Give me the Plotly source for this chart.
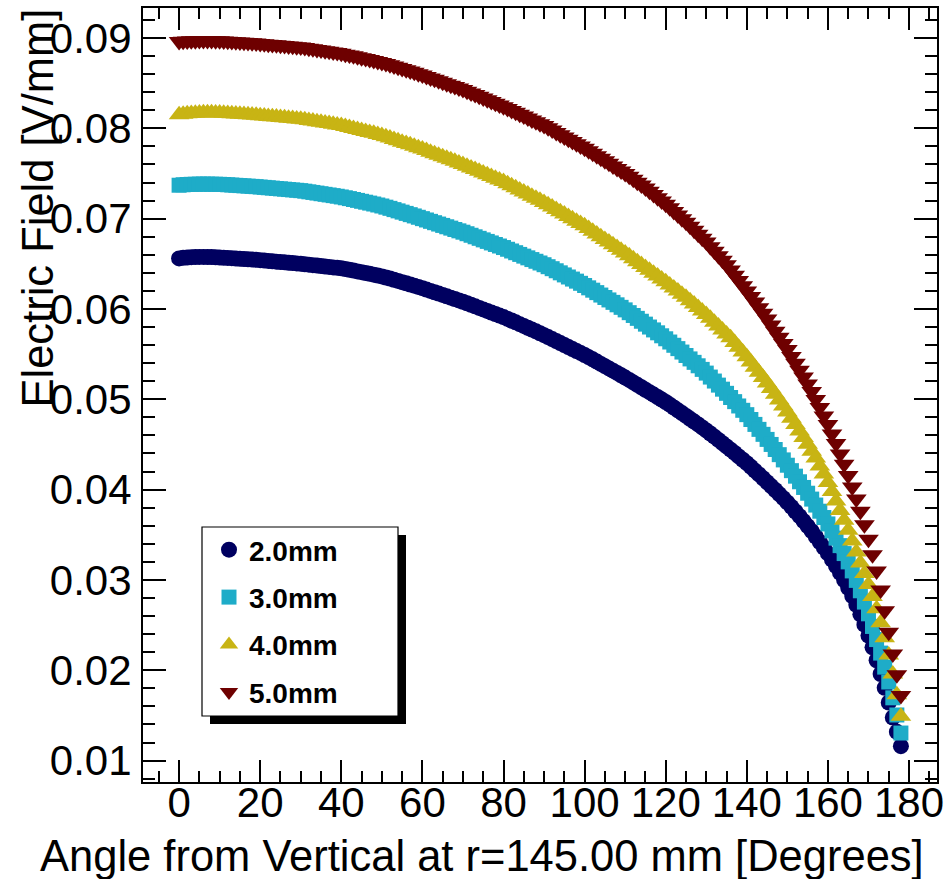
import plotly.graph_objects as go

# ---------------- data ----------------
angles = list(range(0, 179))  # degrees, 1-degree steps

field_2mm = [
    0.06560, 0.06566, 0.06570, 0.06573, 0.06575, 0.06576, 0.06576, 0.06575, 0.06574, 0.06572,
    0.06570, 0.06567, 0.06565, 0.06562, 0.06559, 0.06556, 0.06553, 0.06550, 0.06547, 0.06544,
    0.06540, 0.06536, 0.06532, 0.06528, 0.06524, 0.06520, 0.06516, 0.06512, 0.06508, 0.06504,
    0.06500, 0.06495, 0.06490, 0.06485, 0.06480, 0.06475, 0.06470, 0.06465, 0.06460, 0.06455,
    0.06450, 0.06442, 0.06434, 0.06425, 0.06416, 0.06407, 0.06398, 0.06389, 0.06380, 0.06370,
    0.06360, 0.06348, 0.06336, 0.06323, 0.06310, 0.06297, 0.06284, 0.06271, 0.06258, 0.06244,
    0.06230, 0.06215, 0.06200, 0.06185, 0.06170, 0.06155, 0.06140, 0.06125, 0.06110, 0.06095,
    0.06080, 0.06063, 0.06046, 0.06029, 0.06012, 0.05995, 0.05978, 0.05961, 0.05944, 0.05927,
    0.05910, 0.05891, 0.05872, 0.05852, 0.05832, 0.05812, 0.05792, 0.05772, 0.05752, 0.05731,
    0.05710, 0.05689, 0.05667, 0.05645, 0.05623, 0.05601, 0.05579, 0.05557, 0.05535, 0.05513,
    0.05490, 0.05466, 0.05442, 0.05417, 0.05392, 0.05367, 0.05342, 0.05317, 0.05292, 0.05266,
    0.05240, 0.05214, 0.05187, 0.05160, 0.05133, 0.05106, 0.05079, 0.05052, 0.05025, 0.04998,
    0.04970, 0.04940, 0.04909, 0.04878, 0.04847, 0.04816, 0.04784, 0.04753, 0.04722, 0.04689,
    0.04655, 0.04621, 0.04586, 0.04550, 0.04514, 0.04478, 0.04442, 0.04406, 0.04368, 0.04331,
    0.04293, 0.04252, 0.04210, 0.04168, 0.04126, 0.04082, 0.04039, 0.03996, 0.03951, 0.03905,
    0.03858, 0.03809, 0.03758, 0.03706, 0.03652, 0.03596, 0.03540, 0.03481, 0.03420, 0.03358,
    0.03294, 0.03225, 0.03154, 0.03078, 0.02998, 0.02913, 0.02822, 0.02724, 0.02619, 0.02505,
    0.02385, 0.02254, 0.02111, 0.01959, 0.01806, 0.01643, 0.01477, 0.01318, 0.01160,
]

field_3mm = [
    0.07370, 0.07375, 0.07378, 0.07380, 0.07381, 0.07382, 0.07382, 0.07382, 0.07381, 0.07381,
    0.07380, 0.07378, 0.07375, 0.07372, 0.07369, 0.07366, 0.07363, 0.07360, 0.07357, 0.07354,
    0.07350, 0.07346, 0.07342, 0.07338, 0.07334, 0.07330, 0.07326, 0.07322, 0.07318, 0.07314,
    0.07310, 0.07304, 0.07297, 0.07290, 0.07283, 0.07276, 0.07269, 0.07262, 0.07255, 0.07248,
    0.07240, 0.07231, 0.07222, 0.07212, 0.07202, 0.07192, 0.07182, 0.07172, 0.07162, 0.07151,
    0.07140, 0.07127, 0.07114, 0.07100, 0.07086, 0.07072, 0.07058, 0.07044, 0.07030, 0.07015,
    0.07000, 0.06985, 0.06970, 0.06955, 0.06940, 0.06925, 0.06910, 0.06895, 0.06880, 0.06865,
    0.06850, 0.06833, 0.06816, 0.06799, 0.06782, 0.06765, 0.06748, 0.06731, 0.06714, 0.06697,
    0.06680, 0.06661, 0.06642, 0.06623, 0.06604, 0.06585, 0.06566, 0.06547, 0.06528, 0.06509,
    0.06490, 0.06468, 0.06446, 0.06423, 0.06400, 0.06377, 0.06354, 0.06331, 0.06308, 0.06284,
    0.06260, 0.06234, 0.06208, 0.06181, 0.06154, 0.06127, 0.06100, 0.06073, 0.06046, 0.06018,
    0.05990, 0.05959, 0.05928, 0.05896, 0.05864, 0.05832, 0.05800, 0.05768, 0.05736, 0.05703,
    0.05670, 0.05634, 0.05598, 0.05561, 0.05523, 0.05485, 0.05447, 0.05409, 0.05371, 0.05331,
    0.05290, 0.05246, 0.05202, 0.05157, 0.05112, 0.05066, 0.05020, 0.04974, 0.04926, 0.04878,
    0.04830, 0.04776, 0.04722, 0.04667, 0.04612, 0.04556, 0.04500, 0.04444, 0.04387, 0.04329,
    0.04270, 0.04210, 0.04149, 0.04087, 0.04024, 0.03960, 0.03895, 0.03829, 0.03761, 0.03691,
    0.03620, 0.03543, 0.03463, 0.03380, 0.03292, 0.03200, 0.03100, 0.02995, 0.02880, 0.02755,
    0.02625, 0.02485, 0.02340, 0.02190, 0.02035, 0.01870, 0.01695, 0.01505, 0.01305,
]

field_4mm = [
    0.08150, 0.08156, 0.08161, 0.08165, 0.08168, 0.08170, 0.08171, 0.08171, 0.08171, 0.08170,
    0.08170, 0.08168, 0.08165, 0.08162, 0.08159, 0.08156, 0.08153, 0.08150, 0.08147, 0.08144,
    0.08140, 0.08136, 0.08132, 0.08128, 0.08124, 0.08120, 0.08116, 0.08112, 0.08108, 0.08104,
    0.08100, 0.08094, 0.08087, 0.08080, 0.08073, 0.08066, 0.08059, 0.08052, 0.08045, 0.08038,
    0.08030, 0.08020, 0.08010, 0.07999, 0.07988, 0.07977, 0.07966, 0.07955, 0.07944, 0.07932,
    0.07920, 0.07906, 0.07892, 0.07877, 0.07862, 0.07847, 0.07832, 0.07817, 0.07802, 0.07786,
    0.07770, 0.07753, 0.07736, 0.07719, 0.07702, 0.07685, 0.07668, 0.07651, 0.07634, 0.07617,
    0.07600, 0.07581, 0.07562, 0.07543, 0.07524, 0.07505, 0.07486, 0.07467, 0.07448, 0.07429,
    0.07410, 0.07387, 0.07364, 0.07341, 0.07318, 0.07295, 0.07272, 0.07249, 0.07226, 0.07203,
    0.07180, 0.07154, 0.07128, 0.07102, 0.07076, 0.07050, 0.07024, 0.06998, 0.06972, 0.06946,
    0.06920, 0.06890, 0.06860, 0.06830, 0.06800, 0.06770, 0.06740, 0.06710, 0.06680, 0.06650,
    0.06620, 0.06588, 0.06556, 0.06524, 0.06492, 0.06460, 0.06428, 0.06396, 0.06364, 0.06332,
    0.06300, 0.06266, 0.06232, 0.06198, 0.06164, 0.06130, 0.06092, 0.06054, 0.06016, 0.05978,
    0.05940, 0.05897, 0.05854, 0.05811, 0.05768, 0.05724, 0.05680, 0.05628, 0.05576, 0.05523,
    0.05470, 0.05413, 0.05356, 0.05298, 0.05240, 0.05180, 0.05120, 0.05056, 0.04991, 0.04926,
    0.04860, 0.04790, 0.04720, 0.04650, 0.04576, 0.04501, 0.04426, 0.04350, 0.04262, 0.04172,
    0.04080, 0.03978, 0.03875, 0.03770, 0.03662, 0.03550, 0.03432, 0.03310, 0.03188, 0.03070,
    0.02950, 0.02818, 0.02680, 0.02525, 0.02360, 0.02170, 0.01960, 0.01730, 0.01490,
]

field_5mm = [
    0.08960, 0.08964, 0.08967, 0.08969, 0.08970, 0.08971, 0.08971, 0.08971, 0.08971, 0.08970,
    0.08970, 0.08968, 0.08965, 0.08962, 0.08959, 0.08956, 0.08953, 0.08950, 0.08947, 0.08944,
    0.08940, 0.08936, 0.08932, 0.08928, 0.08924, 0.08920, 0.08916, 0.08912, 0.08908, 0.08904,
    0.08900, 0.08894, 0.08887, 0.08880, 0.08873, 0.08866, 0.08859, 0.08852, 0.08845, 0.08838,
    0.08830, 0.08821, 0.08812, 0.08802, 0.08792, 0.08782, 0.08772, 0.08762, 0.08752, 0.08741,
    0.08730, 0.08717, 0.08704, 0.08690, 0.08676, 0.08662, 0.08648, 0.08634, 0.08620, 0.08605,
    0.08590, 0.08574, 0.08558, 0.08542, 0.08526, 0.08510, 0.08494, 0.08478, 0.08462, 0.08446,
    0.08430, 0.08411, 0.08392, 0.08373, 0.08354, 0.08335, 0.08316, 0.08297, 0.08278, 0.08259,
    0.08240, 0.08219, 0.08198, 0.08177, 0.08156, 0.08135, 0.08114, 0.08093, 0.08072, 0.08051,
    0.08030, 0.08005, 0.07980, 0.07955, 0.07930, 0.07905, 0.07880, 0.07855, 0.07830, 0.07805,
    0.07780, 0.07752, 0.07724, 0.07696, 0.07668, 0.07640, 0.07612, 0.07584, 0.07556, 0.07528,
    0.07500, 0.07468, 0.07436, 0.07404, 0.07372, 0.07340, 0.07304, 0.07268, 0.07232, 0.07196,
    0.07160, 0.07120, 0.07080, 0.07040, 0.07000, 0.06960, 0.06916, 0.06872, 0.06828, 0.06784,
    0.06740, 0.06690, 0.06640, 0.06590, 0.06540, 0.06490, 0.06432, 0.06374, 0.06316, 0.06258,
    0.06200, 0.06138, 0.06076, 0.06014, 0.05952, 0.05890, 0.05822, 0.05754, 0.05686, 0.05618,
    0.05550, 0.05474, 0.05398, 0.05322, 0.05246, 0.05170, 0.05085, 0.04999, 0.04910, 0.04815,
    0.04720, 0.04615, 0.04510, 0.04395, 0.04280, 0.04155, 0.04030, 0.03895, 0.03760, 0.03610,
    0.03450, 0.03280, 0.03100, 0.02890, 0.02660, 0.02420, 0.02180, 0.01950, 0.01720,
]

series_names = ["2.0mm", "3.0mm", "4.0mm", "5.0mm"]
series_values = [field_2mm, field_3mm, field_4mm, field_5mm]

x_title = "Angle from Vertical at r=145.00 mm [Degrees]"
y_title = "Electric Field [V/mm]"

# ---------------- styling ----------------
FONT = "Liberation Sans, Arial, Helvetica, sans-serif"
colors = ["#000060", "#1eacc8", "#c8b414", "#6e0000"]
symbols = ["circle", "square", "triangle-up", "triangle-down"]
sizes = [16, 15, 18, 18]

W, H = 951, 879
ML, MR, MT, MB = 143, 14, 8, 97
PW, PH = W - ML - MR, H - MT - MB


def px_x(p):
    return (p - ML) / PW


def px_y(p):
    return 1 - (p - MT) / PH


fig = go.Figure()
for name, vals, col, sym, sz in zip(series_names, series_values, colors, symbols, sizes):
    assert len(vals) == len(angles)
    fig.add_trace(go.Scatter(
        x=angles, y=vals, mode="markers", name=name, legendgroup=name,
        marker=dict(symbol=sym, size=sz, color=col, line=dict(width=0)),
        cliponaxis=False,
    ))

axis_common = dict(
    showline=True, linecolor="black", linewidth=2, mirror="ticks",
    ticks="inside", tickcolor="black", tickwidth=2,
    showgrid=False, zeroline=False, automargin=False,
    tickfont=dict(family=FONT, size=42, color="black"),
)

fig.update_xaxes(
    range=[-8.9, 186.9], tick0=0, dtick=20, ticklen=22,
    minor=dict(ticks="inside", ticklen=11, tickwidth=2, tickcolor="black", tick0=0, dtick=5),
    ticklabelstandoff=-17,
    **axis_common,
)
fig.update_yaxes(
    range=[0.00763, 0.09332], tick0=0, dtick=0.01, tickformat=".2f", ticklen=23,
    minor=dict(ticks="inside", ticklen=12, tickwidth=2, tickcolor="black", tick0=0, dtick=0.002),
    ticklabelstandoff=1,
    **axis_common,
)

# legend frame with ROOT-style drop shadow
box_l, box_t, box_r, box_b = 202, 527, 398, 716
shadow = 8
shapes = [
    dict(type="rect", xref="paper", yref="paper", layer="above",
         x0=px_x(box_l + shadow), x1=px_x(box_r + shadow),
         y0=px_y(box_b + shadow), y1=px_y(box_t + shadow),
         fillcolor="black", line=dict(width=0)),
    dict(type="rect", xref="paper", yref="paper", layer="above",
         x0=px_x(box_l), x1=px_x(box_r), y0=px_y(box_b), y1=px_y(box_t),
         fillcolor="white", line=dict(color="black", width=1.2)),
]

annotations = [
    dict(text=x_title, xref="paper", yref="paper", x=px_x(926), y=px_y(856),
         xanchor="right", yanchor="middle", showarrow=False,
         font=dict(family=FONT, size=43.5, color="black")),
    dict(text=y_title, xref="paper", yref="paper", x=px_x(37), y=px_y(7),
         xanchor="center", yanchor="top", textangle=-90, showarrow=False,
         font=dict(family=FONT, size=43.5, color="black")),
]

fig.update_layout(
    width=W, height=H, autosize=False,
    margin=dict(l=ML, r=MR, t=MT, b=MB, autoexpand=False),
    paper_bgcolor="white", plot_bgcolor="white",
    font=dict(family=FONT, color="black"),
    showlegend=True,
    legend=dict(
        x=px_x(209), y=px_y(525), xanchor="left", yanchor="top",
        bgcolor="rgba(0,0,0,0)", borderwidth=0,
        font=dict(family=FONT, size=28, color="black", weight="bold"),
        traceorder="grouped", tracegroupgap=8, itemsizing="trace",
    ),
    shapes=shapes,
    annotations=annotations,
)

fig.write_html(
    "out.html",
    config={"displayModeBar": False},
    post_script="document.body.style.margin='0';document.body.style.overflow='hidden';",
)
